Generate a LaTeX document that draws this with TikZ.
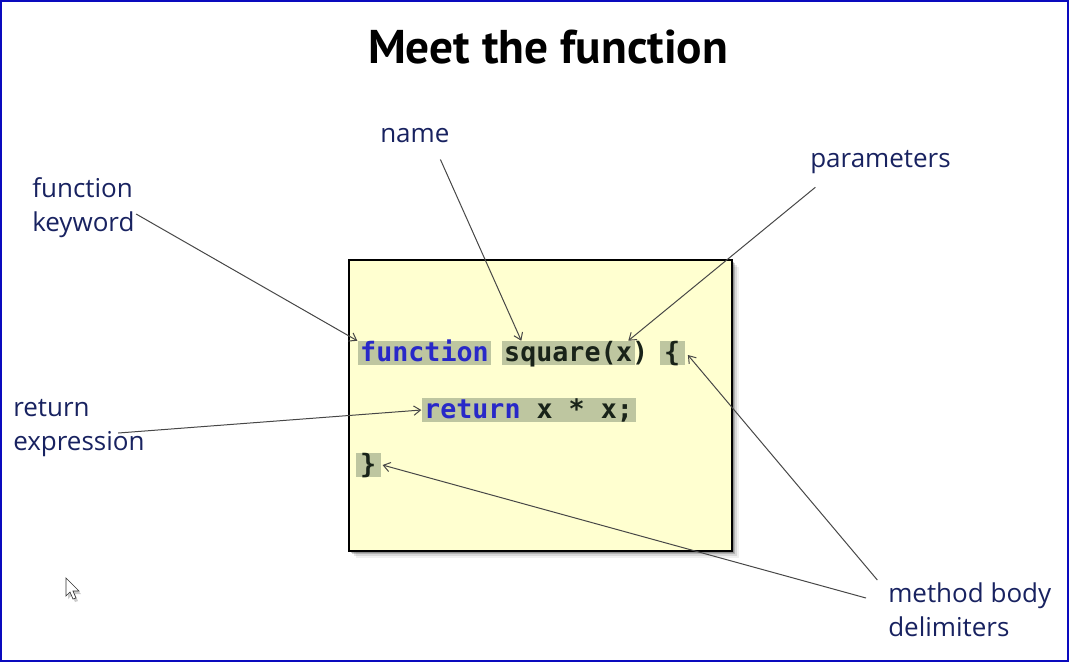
\documentclass[tikz,border=0pt]{standalone}
\usepackage{fontspec}
\setmainfont{Open Sans}
\newfontfamily\titlefont{PT Sans}
\setmonofont{DejaVu Sans Mono}
\usetikzlibrary{positioning,arrows.meta}

\definecolor{frameblue}{RGB}{10,10,190}
\definecolor{labelblue}{RGB}{24,34,96}
\definecolor{codebg}{RGB}{255,255,208}
\definecolor{hlbg}{RGB}{190,198,160}
\definecolor{kwblue}{RGB}{40,40,200}
\definecolor{codetxt}{RGB}{25,35,25}

\tikzset{
    lbl/.style={text=labelblue, font=\fontsize{19.5}{25.5}\selectfont, align=left, inner sep=0pt, anchor=west},
    tok/.style={font=\fontsize{20}{24}\selectfont\ttfamily\bfseries, text=codetxt, anchor=base west,
                inner xsep=2pt, inner ysep=0pt, text height=15pt, text depth=3pt},
    hl/.style={tok, fill=hlbg},
    pointer/.style={-{Straight Barb[length=5pt,width=7pt]}, draw=black!72, line width=0.75pt},
}

\begin{document}
\begin{tikzpicture}[x=0.75pt, y=-0.75pt]
                \useasboundingbox (0,0) rectangle (1069,662);

                %% title
                \node[font=\titlefont\bfseries\fontsize{35.5}{40}\selectfont] (title) at (548,47) {Meet the function};

                %% code box
                \foreach \s/\o in {7/0.06,5/0.1,3/0.18,2/0.2}
                    \fill[black, opacity=\o] (349+\s,260+\s) rectangle (732+\s,551+\s);
                \draw[black, fill=codebg, line width=0.8pt] (349,260) rectangle (732,551);

                %% code
                \node[hl] (kw)  at (357.3,361) {\textcolor{kwblue}{function}};
                \node[hl] (sq)  at (501.3,361) {square(};
                \node[hl] (px)  at (613.3,361) {x};
                \node[tok] (rp) at (629.3,361) {)};
                \node[hl, inner xsep=3.5pt] (lb) at (659.3,361) {\{};
                \node[hl] (ret) at (421.3,418) {\textcolor{kwblue}{return} x * x;};
                \node[hl, inner xsep=3.5pt] (rb) at (355.3,473) {\}};

                %% labels
                \node[lbl] (fk) at (32,208)  {function\\keyword};
                \node[lbl] (nm) at (380,136) {name};
                \node[lbl] (pm) at (810,162) {parameters};
                \node[lbl] (re) at (13,428)  {return\\expression};
                \node[lbl] (mb) at (888,610) {method body\\delimiters};

                %% pointers
                \draw[pointer] ([xshift=1pt,yshift=-4.5pt]fk.east) -- (kw.north west);
                \draw[pointer] ([xshift=-7pt,yshift=-12pt]nm.south east) -- ([xshift=15pt]sq.north west);
                \draw[pointer] ([xshift=4pt,yshift=-10pt]pm.south west) -- ([xshift=3pt]px.north);
                \draw[pointer] ([xshift=-20pt,yshift=-3.75pt]re.east) -- (ret.west);
                \draw[pointer] ([xshift=-8pt,yshift=22.5pt]mb.west) -- ([xshift=2pt,yshift=-1.5pt]lb.east);
                \draw[pointer] ([xshift=-16.5pt,yshift=9pt]mb.west) -- ([xshift=1pt]rb.east);

                %% cursor
                \fill[black, opacity=0.2] (68,580) -- (68,599) -- (72,595) -- (75,602) -- (78,601) -- (75,594) -- (81,594) -- cycle;
                \draw[black!80, fill=white, line width=0.5pt] (66,578) -- (66,596) -- (70,592) -- (73,599) -- (76,598) -- (73,591) -- (79,591) -- cycle;

                %% frame
                \draw[frameblue, line width=1.5pt] (1,1) rectangle (1068,661);
\end{tikzpicture}
\end{document}
